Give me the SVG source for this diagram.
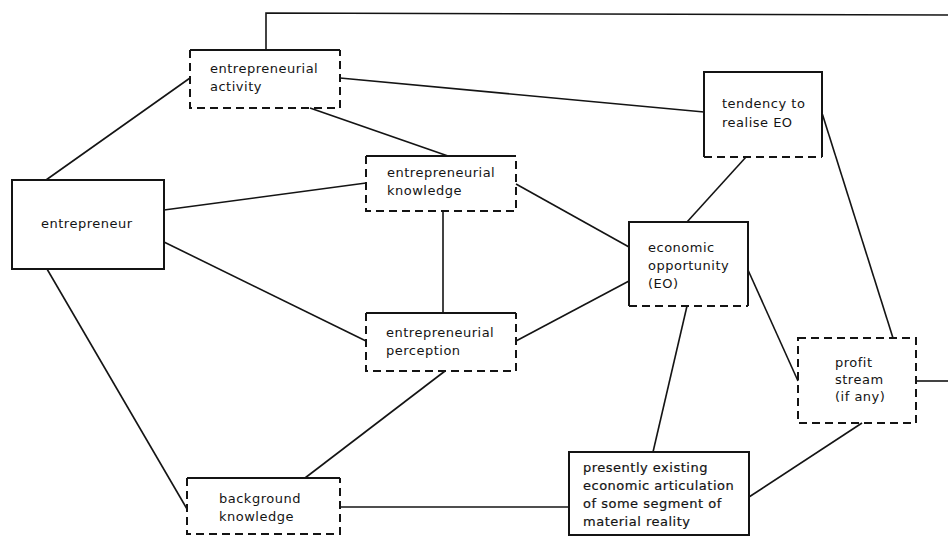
<svg xmlns="http://www.w3.org/2000/svg" width="948" height="536" viewBox="0 0 948 536">
<style>
.s{fill:none;stroke:#141414;stroke-width:2}
.d{fill:none;stroke:#141414;stroke-width:2;stroke-dasharray:8 5}
.c{fill:none;stroke:#141414;stroke-width:1.6}
text{font-family:"DejaVu Sans",sans-serif;font-size:13px;letter-spacing:0.5px;fill:#141414}
.b{stroke:#141414;stroke-width:0.2}
</style>
<rect width="948" height="536" fill="#ffffff"/>
<g id="connectors">
<path class="c" d="M266,50 V13 L948,15"/>
<path class="c" d="M916,381 H948"/>
<path class="c" d="M46,180 L190,78"/>
<path class="c" d="M164,210 L366,183"/>
<path class="c" d="M164,242 L366,341"/>
<path class="c" d="M47,269 L187,509"/>
<path class="c" d="M340,78 L704,112"/>
<path class="c" d="M310,108 L448,156"/>
<path class="c" d="M443,211 V313"/>
<path class="c" d="M516,184 L629,247"/>
<path class="c" d="M516,341 L629,281"/>
<path class="c" d="M445,371 L305,478"/>
<path class="c" d="M746,157 L687,222"/>
<path class="c" d="M822,113 L893,338"/>
<path class="c" d="M748,270 L798,381"/>
<path class="c" d="M687,306 L653,452"/>
<path class="c" d="M862,423 L749,497"/>
<path class="c" d="M340,507 L569,507"/>
</g>
<g id="entrepreneurial-activity">
<path class="s" d="M190,50 H340"/>
<path class="d" d="M190,50 V108 H340 V50"/>
<text x="210" y="73">entrepreneurial</text>
<text x="210" y="91">activity</text>
</g>
<g id="entrepreneur">
<rect class="s" x="12" y="180" width="152" height="89"/>
<text x="41" y="228">entrepreneur</text>
</g>
<g id="entrepreneurial-knowledge">
<path class="s" d="M366,156 H516"/>
<path class="d" d="M366,156 V211 H516 V156"/>
<text x="387" y="177">entrepreneurial</text>
<text x="387" y="195">knowledge</text>
</g>
<g id="entrepreneurial-perception">
<path class="s" d="M366,313 H516"/>
<path class="d" d="M366,313 V371 H516 V313"/>
<text x="386" y="337">entrepreneurial</text>
<text x="386" y="355">perception</text>
</g>
<g id="tendency">
<path class="s" d="M704,157 V72 H822 V157"/>
<path class="d" d="M704,157 H822"/>
<text x="722" y="108">tendency to</text>
<text x="722" y="127">realise EO</text>
</g>
<g id="economic-opportunity">
<path class="s" d="M629,306 V222 H748 V306"/>
<path class="d" d="M629,306 H748"/>
<text x="648" y="252">economic</text>
<text x="648" y="270">opportunity</text>
<text x="648" y="288">(EO)</text>
</g>
<g id="profit-stream">
<rect class="d" x="798" y="338" width="118" height="85"/>
<text x="835" y="367">profit</text>
<text x="835" y="384">stream</text>
<text x="835" y="401">(if any)</text>
</g>
<g id="presently-existing">
<rect class="s" x="569" y="452" width="180" height="83"/>
<text class="b" x="583" y="472">presently existing</text>
<text class="b" x="583" y="490">economic articulation</text>
<text class="b" x="583" y="508">of some segment of</text>
<text class="b" x="583" y="526">material reality</text>
</g>
<g id="background-knowledge">
<path class="s" d="M187,478 H340"/>
<path class="d" d="M187,478 V534 H340 V478"/>
<text x="219" y="503">background</text>
<text x="219" y="521">knowledge</text>
</g>
</svg>
